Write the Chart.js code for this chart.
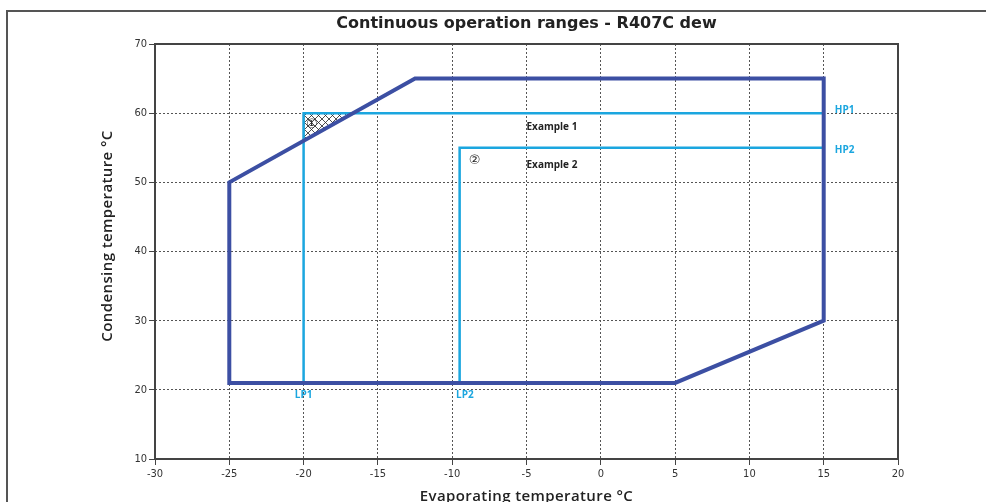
<!DOCTYPE html>
<html>
<head>
<meta charset="utf-8">
<script src="https://cdn.jsdelivr.net/npm/chart.js@4/dist/chart.umd.min.js"></script>
<style>
  html, body { margin: 0; padding: 0; background: #fff; }
  canvas { display: block; }
</style>
</head>
<body>
<canvas id="chart" width="986" height="502"></canvas>
<script>
// operating envelope
const envelopeX = [-25, -25, -12.5, 15, 15, 5, -25];
const envelopeY = [21, 50, 65, 65, 30, 21, 21];
// example 1 and 2 (LP / HP)
const example1X = [-20, -20, 15];
const example1Y = [21, 60, 60];
const example2X = [-9.5, -9.5, 15];
const example2Y = [21, 55, 55];
// hatched corner zone
const hatchX = [-20, -20, -16.67, -20];
const hatchY = [60, 56, 60, 60];

const xTicks = [-30, -25, -20, -15, -10, -5, 0, 5, 10, 15, 20];
const yTicks = [10, 20, 30, 40, 50, 60, 70];

const labels = [
    { text: 'HP1', x: 15.75, y: 60.45, color: '#1ba6df', font: 'bold 10px "Open Sans"', align: 'left' },
    { text: 'HP2', x: 15.75, y: 54.7, color: '#1ba6df', font: 'bold 10px "Open Sans"', align: 'left' },
    { text: 'LP1', x: -20, y: 19.2, color: '#1ba6df', font: 'bold 10px "Open Sans"', align: 'center' },
    { text: 'LP2', x: -9.15, y: 19.2, color: '#1ba6df', font: 'bold 10px "Open Sans"', align: 'center' },
    { text: 'Example 1', x: -5, y: 58, color: '#222', font: 'bold 10px "Open Sans"', align: 'left' },
    { text: 'Example 2', x: -5, y: 52.5, color: '#222', font: 'bold 10px "Open Sans"', align: 'left' },
    { text: '\u2460', x: -19.45, y: 58.4, color: '#222', font: '13px "DejaVu Sans"', align: 'center' },
    { text: '\u2461', x: -8.5, y: 53.2, color: '#222', font: '13px "DejaVu Sans"', align: 'center' }
];

function toPoints(xs, ys) {
    let pts = [];
    for (let i = 0; i < xs.length; i++) {
        pts.push({ x: xs[i], y: ys[i] });
    }
    return pts;
}

// cross hatch pattern
const pc = document.createElement('canvas');
pc.width = 7;
pc.height = 7;
const pctx = pc.getContext('2d');
pctx.fillStyle = '#fff';
pctx.fillRect(0, 0, 7, 7);
pctx.strokeStyle = '#222';
pctx.lineWidth = 0.8;
pctx.beginPath();
pctx.moveTo(0, 0); pctx.lineTo(7, 7);
pctx.moveTo(7, 0); pctx.lineTo(0, 7);
pctx.stroke();
const hatch = pctx.createPattern(pc, 'repeat');

const narrow = "'Liberation Sans Narrow', 'DejaVu Sans Condensed', sans-serif";

const decor = {
    id: 'decor',
    beforeDraw(chart) {
        const ctx = chart.ctx;
        ctx.save();
        ctx.strokeStyle = '#555';
        ctx.lineWidth = 2;
        ctx.beginPath();
        ctx.moveTo(7, 502);
        ctx.lineTo(7, 11);
        ctx.lineTo(986, 11);
        ctx.stroke();
        ctx.restore();
    },
    beforeDatasetsDraw(chart) {
        const ctx = chart.ctx;
        const a = chart.chartArea;
        ctx.save();
        ctx.strokeStyle = '#444';
        ctx.lineWidth = 2;
        ctx.strokeRect(a.left, a.top, a.right - a.left, a.bottom - a.top);
        ctx.restore();
    },
    afterDraw(chart) {
        const ctx = chart.ctx;
        const a = chart.chartArea;
        const xs = chart.scales.x;
        const ys = chart.scales.y;
        ctx.save();
        ctx.textBaseline = 'middle';
        ctx.textAlign = 'center';
        ctx.fillStyle = '#222';
        ctx.font = 'bold 16px "DejaVu Sans"';
        ctx.fillText('Continuous operation ranges - R407C dew', (a.left + a.right) / 2, 24);
        ctx.font = '600 15px "Open Sans"';
        ctx.letterSpacing = '0.4px';
        ctx.fillText('Evaporating temperature \u00b0C', (a.left + a.right) / 2, 497);
        ctx.save();
        ctx.translate(108, 236);
        ctx.rotate(-Math.PI / 2);
        ctx.fillText('Condensing temperature \u00b0C', 0, 0);
        ctx.restore();
        ctx.letterSpacing = '0px';
        for (const l of labels) {
            ctx.font = l.font;
            ctx.fillStyle = l.color;
            ctx.textAlign = l.align;
            ctx.fillText(l.text, xs.getPixelForValue(l.x), ys.getPixelForValue(l.y));
        }
        ctx.restore();
    }
};

const data = {
    datasets: [{
        data: toPoints(envelopeX, envelopeY),
        borderColor: '#3c4fa3',
        borderWidth: 4,
        borderCapStyle: 'square',
        borderJoinStyle: 'miter',
        pointRadius: 0,
        showLine: true,
        fill: false
    }, {
        data: toPoints(example1X, example1Y),
        borderColor: '#1ba6df',
        borderWidth: 2.5,
        pointRadius: 0,
        showLine: true,
        fill: false
    }, {
        data: toPoints(example2X, example2Y),
        borderColor: '#1ba6df',
        borderWidth: 2.5,
        pointRadius: 0,
        showLine: true,
        fill: false
    }, {
        data: toPoints(hatchX, hatchY),
        borderColor: '#222',
        borderWidth: 1.5,
        backgroundColor: hatch,
        pointRadius: 0,
        showLine: true,
        fill: 'shape'
    }]
};

const config = {
    type: 'scatter',
    data: data,
    options: {
        responsive: false,
        animation: false,
        devicePixelRatio: 1,
        layout: { padding: { left: 0, top: 44, right: 88, bottom: 0 } },
        plugins: {
            legend: { display: false },
            tooltip: { enabled: false },
            title: { display: false }
        },
        scales: {
            x: {
                type: 'linear',
                min: -30,
                max: 20,
                afterBuildTicks: (s) => { s.ticks = xTicks.map(v => ({ value: v })); },
                afterFit: (s) => { s.height = 43; },
                ticks: { color: '#333', font: { family: narrow, size: 11 }, padding: 3 },
                grid: { color: '#555', lineWidth: 1, tickLength: 6, tickColor: '#444' },
                border: { display: false, dash: [2, 2] }
            },
            y: {
                type: 'linear',
                min: 10,
                max: 70,
                afterBuildTicks: (s) => { s.ticks = yTicks.map(v => ({ value: v })); },
                afterFit: (s) => { s.width = 155; },
                ticks: { color: '#333', font: { family: narrow, size: 11 }, padding: 2 },
                grid: { color: '#555', lineWidth: 1, tickLength: 6, tickColor: '#444' },
                border: { display: false, dash: [2, 2] }
            }
        }
    },
    plugins: [decor]
};

var ctx = document.getElementById('chart').getContext('2d');
new Chart(ctx, config);
</script>
</body>
</html>
